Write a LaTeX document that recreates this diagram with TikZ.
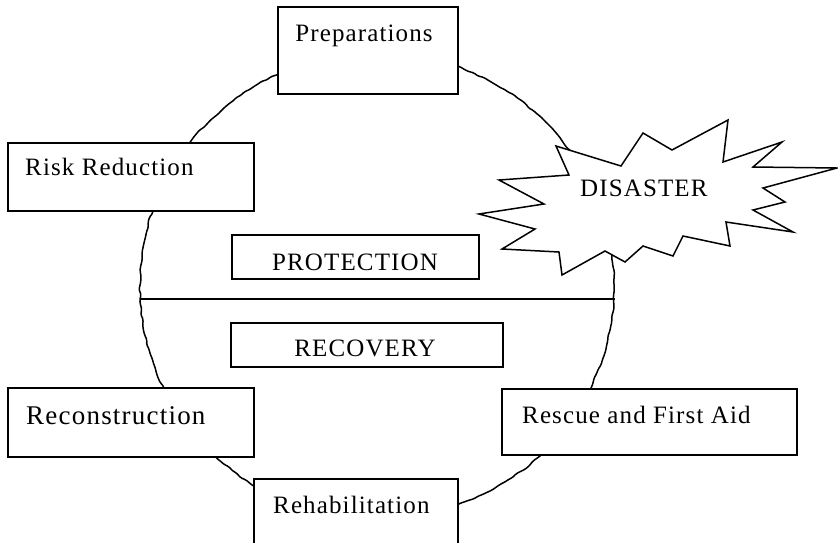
\documentclass[tikz,border=0pt]{standalone}
\usepackage{fontspec}
\setmainfont{Liberation Serif}[LetterSpace=4.5]
\usetikzlibrary{decorations.pathmorphing}
\definecolor{trait}{RGB}{0,0,0}
\tikzset{
	boite/.style={draw=trait,line width=1.6pt,fill=white,inner sep=0pt},
	texte/.style={font=\fontsize{25}{30}\selectfont,inner sep=0pt},
	cercle/.style={draw=trait,line width=1.5pt,decorate,
		decoration={random steps,segment length=5pt,amplitude=1pt},rounded corners=1.5pt},
}
\newcommand{\Boite}[5]{%
	\node[boite,anchor=north west,minimum width=#4pt,minimum height=#5pt] (#1) at (#2,#3) {};%
}

\begin{document}
\begin{tikzpicture}[x=1pt,y=-1pt]
	\useasboundingbox (0,0) rectangle (838,542);
	\pgfmathsetseed{7}
	
	% cycle (trait ondulé)
	\draw[cercle] (377,286) ellipse [x radius=237,y radius=233];
	
	% séparation protection / récupération
	\coordinate (gauche) at (140,299);
	\coordinate (droite) at (615,299);
	\draw[line width=1.5pt] (gauche) -- (droite);
	
	% --- étapes ---
	\Boite{prep}{277}{6}{180}{87}
	\node[texte,anchor=base] (prep-t) at (364,41) {Preparations};
	
	\Boite{risque}{7}{142}{246}{68}
	\node[texte,anchor=base west] (risque-t) at (25,175) {Risk Reduction};
	
	\Boite{protec}{231}{234}{247}{44}
	\node[texte,anchor=base] (protec-t) at (355,270) {PROTECTION};
	
	\Boite{recup}{230}{322}{272}{44}
	\node[texte,anchor=base] (recup-t) at (365,356) {RECOVERY};
	
	\Boite{recons}{7}{387}{246}{69}
	\node[texte,anchor=base west,font=\fontsize{27}{32}\selectfont] (recons-t) at (26,424) {Reconstruction};
	
	\Boite{secours}{501}{388}{295}{66}
	\node[texte,anchor=base west] (secours-t) at (522,423) {Rescue and First Aid};
	
	\Boite{rehab}{253}{478}{204}{80}
	\node[texte,anchor=base west] (rehab-t) at (273,513) {Rehabilitation};
	
	% catastrophe (étoile)
	\draw[line width=1.5pt,fill=white,line join=miter]
	(556,146) -- (621,166) -- (643,133) -- (672,150) -- (728,120) -- (723,162)
	-- (782,142) -- (753,167) -- (837,168) -- (763,188) -- (785,202) -- (753,210)
	-- (793,232) -- (726,222) -- (730,246) -- (683,236) -- (673,256) -- (643,246)
	-- (625,262) -- (605,251) -- (562,275) -- (559,252) -- (502,249) -- (535,229)
	-- (479,214) -- (544,204) -- (499,180) -- (569,175) -- cycle;
	\node[texte,anchor=base west] (desastre) at (580,196) {DISASTER};
	
\end{tikzpicture}
\end{document}
